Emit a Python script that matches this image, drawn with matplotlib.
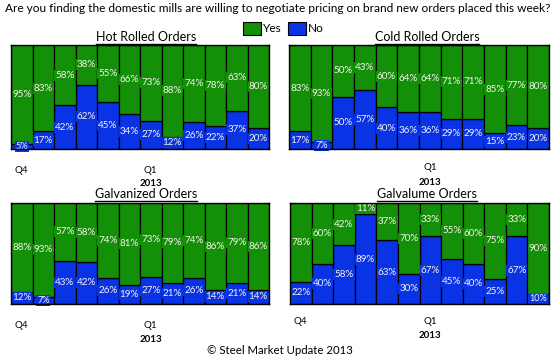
import matplotlib
matplotlib.use("Agg")
import matplotlib.pyplot as plt
from matplotlib.lines import Line2D
from matplotlib.patches import Rectangle

# ---------------- data ----------------
titles = ["Hot Rolled Orders", "Cold Rolled Orders", "Galvanized Orders", "Galvalume Orders"]
hot_yes = [95, 83, 58, 38, 55, 66, 73, 88, 74, 78, 63, 80]
hot_no = [5, 17, 42, 62, 45, 34, 27, 12, 26, 22, 37, 20]
cold_yes = [83, 93, 50, 43, 60, 64, 64, 71, 71, 85, 77, 80]
cold_no = [17, 7, 50, 57, 40, 36, 36, 29, 29, 15, 23, 20]
galv_yes = [88, 93, 57, 58, 74, 81, 73, 79, 74, 86, 79, 86]
galv_no = [12, 7, 43, 42, 26, 19, 27, 21, 26, 14, 21, 14]
galval_yes = [78, 60, 42, 11, 37, 70, 33, 55, 60, 75, 33, 90]
galval_no = [22, 40, 58, 89, 63, 30, 67, 45, 40, 25, 67, 10]
# category labels: (index, quarter, year)
tick_labels_tl = [(0, "Q4", ""), (6, "Q1", "2013")]
tick_labels_tr = [(6, "Q1", "2013")]
tick_labels_bl = [(0, "Q4", ""), (6, "Q1", "2013")]
tick_labels_br = [(0, "Q4", ""), (6, "Q1", "2013")]

series_names = ["Yes", "No"]
main_title = "Are you finding the domestic mills are willing to negotiate pricing on brand new orders placed this week?"
footer = "\u00a9 Steel Market Update 2013"

GREEN = "#148F08"
BLUE = "#0A33E6"
FONT = "Lato"

W, H = 557, 359
fig = plt.figure(figsize=(W / 100, H / 100), dpi=100)
plt.rcParams['font.family'] = [FONT, 'DejaVu Sans']


def px_axes(x0, x1, ytop, ybot):
    return fig.add_axes([x0 / W, (H - ybot) / H, (x1 - x0) / W, (ybot - ytop) / H])


panels = [
    (px_axes(11, 269, 45, 149), hot_yes, hot_no, tick_labels_tl, 22, 35),
    (px_axes(289, 549, 45, 149), cold_yes, cold_no, tick_labels_tr, 19, 34),
    (px_axes(11, 269, 203, 304), galv_yes, galv_no, tick_labels_bl, 21, 35),
    (px_axes(290, 549, 203, 304), galval_yes, galval_no, tick_labels_br, 18, 31),
]

title_texts = []
for k, (ax, yes, no, ticks, off_q, off_y) in enumerate(panels):
    x = list(range(len(yes)))
    ax.bar(x, no, width=1.0, color=BLUE, edgecolor="black", linewidth=0.9, zorder=2)
    ax.bar(x, yes, bottom=no, width=1.0, color=GREEN, edgecolor="black", linewidth=0.9, zorder=2)
    ax.set_xlim(-0.5, len(yes) - 0.5)
    ax.set_ylim(0, 100)
    ax.set_xticks([])
    ax.set_yticks([])
    for s in ax.spines.values():
        s.set_linewidth(1.0)
        s.set_color("black")
        s.set_zorder(8)
    for i in x:
        ax.text(i, no[i] / 2, f"{no[i]}%", ha="center", va="center", color="#F4F4EC",
                fontsize=7.1 if no[i] > 10 else 6.6, zorder=6, clip_on=False,
                bbox=dict(boxstyle="square,pad=0.1", fc=BLUE, ec="none"))
        ax.text(i, no[i] + yes[i] / 2, f"{yes[i]}%", ha="center", va="center", color="#F4F4EC",
                fontsize=7.1, zorder=6, clip_on=False,
                bbox=dict(boxstyle="square,pad=0.1", fc=GREEN, ec="none"))
    for (idx, q, yr) in ticks:
        ax.annotate(q, xy=(idx, 0), xycoords=("data", "axes fraction"), xytext=(0, -off_q),
                    textcoords="offset pixels", ha="center", va="center", fontsize=7, color="black")
        if yr:
            ax.annotate(yr, xy=(idx, 0), xycoords=("data", "axes fraction"), xytext=(0, -off_y),
                        textcoords="offset pixels", ha="center", va="center", fontsize=7,
                        fontweight="bold", color="black")

title_pos = [(146, 37), (427, 37), (146, 194), (427, 194)]
for t, (cx, cy) in zip(titles, title_pos):
    tt = fig.text(cx / W, 1 - cy / H, t, ha="center", va="center", fontsize=9.0, color="black")
    title_texts.append(tt)

fig.text(278 / W, 1 - 8 / H, main_title, ha="center", va="center", fontsize=8.6, color="black")
fig.text(280 / W, 1 - 351 / H, footer, ha="center", va="center", fontsize=8.2, color="black")

# legend
leg = [(243, GREEN, series_names[0]), (288, BLUE, series_names[1])]
for (lx, col, lab) in leg:
    fig.patches.append(Rectangle((lx / W, 1 - 35 / H), 18 / W, 13 / H, transform=fig.transFigure,
                                 fc=col, ec="black", lw=0.8))
    fig.text((lx + 20) / W, 1 - 28.5 / H, lab, ha="left", va="center", fontsize=8.6, color="black")

# underline panel titles
fig.canvas.draw()
r = fig.canvas.get_renderer()
for tt in title_texts:
    bb = tt.get_window_extent(renderer=r)
    y = bb.y0 - 1
    fig.add_artist(Line2D([bb.x0 / W, bb.x1 / W], [y / H, y / H], transform=fig.transFigure,
                          color="black", lw=1.0))

fig.savefig("out.png", dpi=100)
